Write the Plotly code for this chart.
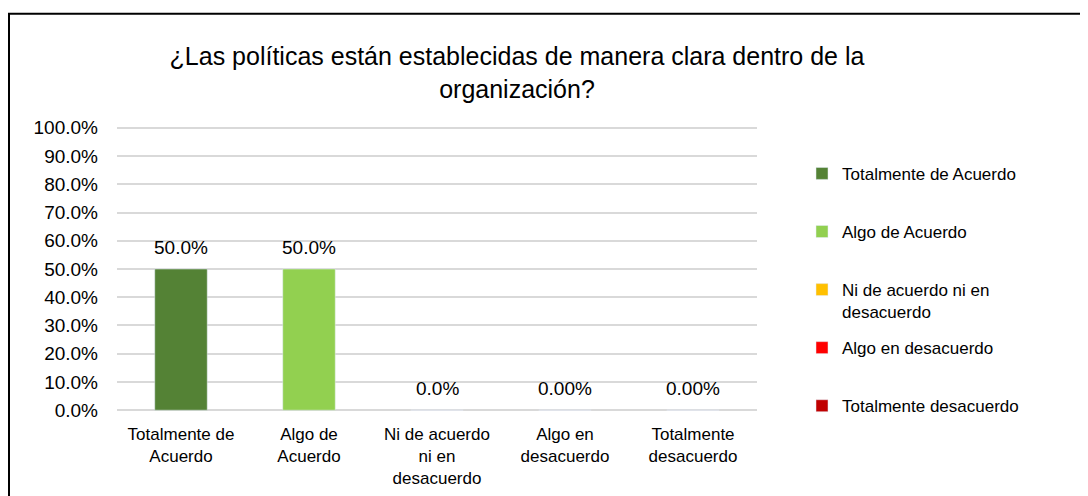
import plotly.graph_objects as go

categories = ["Totalmente de<br>Acuerdo", "Algo de<br>Acuerdo", "Ni de acuerdo<br>ni en<br>desacuerdo",
              "Algo en<br>desacuerdo", "Totalmente<br>desacuerdo"]
series_names = ["Totalmente de Acuerdo", "Algo de Acuerdo", "Ni de acuerdo ni en<br>desacuerdo",
                "Algo en desacuerdo", "Totalmente desacuerdo"]
values = [0.50, 0.50, 0.0, 0.0, 0.0]
value_labels = ["50.0%", "50.0%", "0.0%", "0.00%", "0.00%"]
colors = ["#548235", "#92D050", "#FFC000", "#FF0000", "#C00000"]
y_ticks = [0.0, 0.1, 0.2, 0.3, 0.4, 0.5, 0.6, 0.7, 0.8, 0.9, 1.0]

FONT = "Liberation Sans, Arial, sans-serif"

# page offset (body margin) = 8px
OFF = 8
W, H = 1080, 488
Y_LO, Y_HI = -0.01, 1.01
UNIT = 282.0  # pixels for 0..100%
PH = UNIT * (Y_HI - Y_LO)
BOT_PAGE = 410 + (-Y_LO) * UNIT
TOP_PAGE = BOT_PAGE - PH
L = 117 - OFF
R = W - (757 - OFF)
T = TOP_PAGE - OFF
B = H - (BOT_PAGE - OFF)
PW = W - L - R


def py(page_y):
    return (BOT_PAGE - page_y) / PH


def px(page_x):
    return (page_x - 117) / PW


fig = go.Figure()
for i, (cat, name, val, col) in enumerate(zip(categories, series_names, values, colors)):
    fig.add_trace(go.Bar(
        x=[cat], y=[val], name=name, marker_color=col, width=0.41,
        legendgroup=f"g{i}", legend="legend" if i < 3 else "legend2",
        hoverinfo="skip",
    ))

for cat, val, lab in zip(categories, values, value_labels):
    fig.add_annotation(x=cat, y=val, text=lab, showarrow=False, yanchor="middle",
                       yshift=22, font=dict(size=19, color="#000000", family=FONT))

fig.add_shape(type="rect", xref="paper", yref="paper",
              x0=px(9), x1=2.0, y0=-1.0, y1=py(14),
              line=dict(color="#000000", width=2), fillcolor="rgba(0,0,0,0)", layer="above")

legend_common = dict(font=dict(size=17, color="#000000", family=FONT), bgcolor="rgba(0,0,0,0)",
                     tracegroupgap=33, valign="top", traceorder="grouped",
                     xanchor="left", yanchor="top", itemclick=False, itemdoubleclick=False)

fig.update_layout(
    width=W, height=H,
    margin=dict(l=L, r=R, t=T, b=B, pad=0, autoexpand=False),
    paper_bgcolor="#FFFFFF", plot_bgcolor="#FFFFFF",
    font=dict(family=FONT, color="#000000"),
    barmode="overlay",
    title=dict(text="¿Las políticas están establecidas de manera clara dentro de la<br>organización?",
               x=(517 - OFF) / W, xanchor="center", xref="container",
               y=1 - (65 - OFF) / H, yanchor="top", yref="container",
               font=dict(size=25, color="#000000", family=FONT)),
    legend=dict(x=px(802), y=py(156), **legend_common),
    legend2=dict(x=px(802), y=py(330), **legend_common),
    xaxis=dict(type="category", categoryorder="array", categoryarray=categories,
               showgrid=False, showline=False, zeroline=False, ticks="",
               ticklabelstandoff=9, automargin=False,
               tickfont=dict(size=17, color="#000000", family=FONT), fixedrange=True),
    yaxis=dict(range=[Y_LO, Y_HI], tickvals=y_ticks, tickformat=".1%", showgrid=True,
               gridcolor="#D9D9D9", gridwidth=1.5, zeroline=False, showline=False,
               ticks="", ticklabelstandoff=18, automargin=False,
               tickfont=dict(size=19, color="#000000", family=FONT), fixedrange=True),
    showlegend=True,
)

fig.write_html("out.html")
